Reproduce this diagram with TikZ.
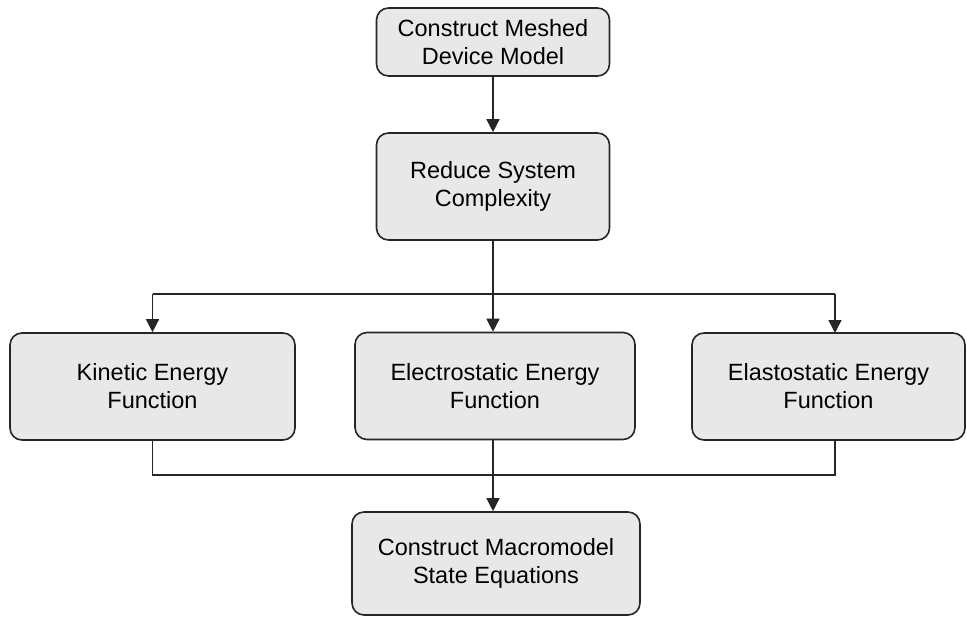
\documentclass[tikz,border=0pt]{standalone}
\usepackage{fontspec}
\setmainfont{Liberation Sans}
\usetikzlibrary{arrows.meta}
\begin{document}
\begin{tikzpicture}[x=1pt,y=-1pt,
  stage/.style={draw=black!85, line width=1.6pt, fill=black!9, rounded corners=12pt,
    align=center, inner sep=0pt, text=black,
    font=\fontsize{23.5}{28}\selectfont},
  link/.style={draw=black!85, line width=1.4pt},
  flow/.style={link, -{Triangle[length=13pt,width=13pt]}}]
\useasboundingbox (0,0) rectangle (967,618);

% process stages
\node[stage, minimum width=233pt, minimum height=68pt] (mesh) at (493,42)
  {Construct Meshed\\Device Model};
\node[stage, minimum width=233pt, minimum height=107pt] (reduce) at (493,186.5)
  {Reduce System\\Complexity};
\node[stage, minimum width=285pt, minimum height=107pt] (kin) at (152.5,386.5)
  {Kinetic Energy\\Function};
\node[stage, minimum width=280pt, minimum height=107pt] (elec) at (495,386)
  {Electrostatic Energy\\Function};
\node[stage, minimum width=273pt, minimum height=107pt] (elas) at (828.5,386.5)
  {Elastostatic Energy\\Function};
\node[stage, minimum width=288pt, minimum height=103pt] (macro) at (496,563.5)
  {Construct Macromodel\\State Equations};

% branch and merge points
\coordinate (split) at (493,294);
\coordinate (merge) at (493,475);
\coordinate (elasin) at (835,333);
\coordinate (elasout) at (835,440);

% connectors
\draw[flow] (mesh.south) -- (reduce.north);
\draw[flow] (reduce.south -| split) -- (elec.north -| split);
\draw[link] (kin.north |- split) -- (elasin |- split);
\draw[flow] (split -| kin.north) -- (kin.north);
\draw[flow] (split -| elasin) -- (elasin);
\draw[link] (kin.south) |- (merge) -| (elasout);
\draw[flow] (elec.south -| merge) -- (macro.north -| merge);
\end{tikzpicture}
\end{document}
